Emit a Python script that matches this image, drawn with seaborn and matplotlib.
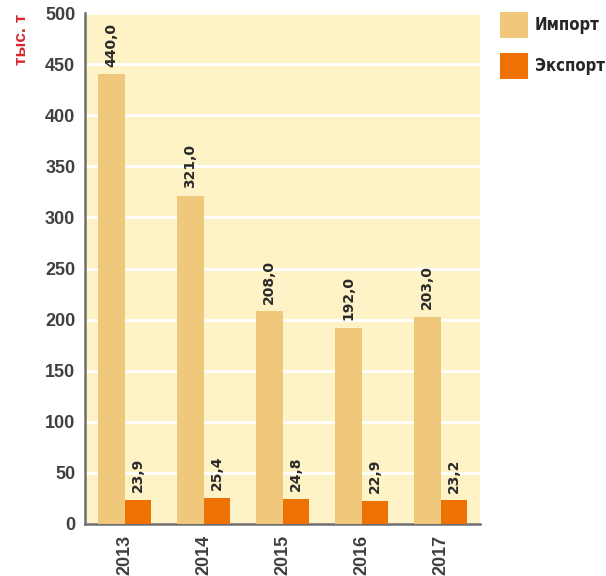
import pandas as pd
import numpy as np
import seaborn as sns
import matplotlib.pyplot as plt
from matplotlib.patches import Patch

# data
years = ['2013', '2014', '2015', '2016', '2017']
imports = [440.0, 321.0, 208.0, 192.0, 203.0]
exports = [23.9, 25.4, 24.8, 22.9, 23.2]
series = ['Импорт', 'Экспорт']
colors = ['#EFC87B', '#EE7203']

df = pd.DataFrame({
    'year': years * 2,
    'value': imports + exports,
    'type': [series[0]] * len(years) + [series[1]] * len(years),
})

sns.set_style('white')
plt.rcParams['font.family'] = ['Liberation Sans', 'DejaVu Sans']

fig = plt.figure(figsize=(6.06, 5.76), dpi=100)
ax = fig.add_axes([85 / 606, 1 - 524 / 576, 395 / 606, 511 / 576])
ax.set_facecolor('#FEF3C7')

sns.barplot(data=df, x='year', y='value', hue='type', palette=colors,
            width=0.68, saturation=1, ax=ax, legend=False, linewidth=0, zorder=3)

ax.set_ylim(0, 500)
ax.set_xlim(-0.5, 4.5)
ax.set_yticks(np.arange(0, 501, 50))
ax.yaxis.grid(True, color='white', linewidth=2, zorder=1)
ax.set_axisbelow(True)
ax.set_xlabel('')
ax.set_ylabel('')

for s in ['top', 'right']:
    ax.spines[s].set_visible(False)
for s in ['left', 'bottom']:
    ax.spines[s].set_color('#6E6E6E')
    ax.spines[s].set_linewidth(1.8)

ax.tick_params(axis='y', direction='out', length=5, width=1.2, color='#6E6E6E',
               labelsize=13, labelcolor='#404040', pad=2)
for t in ax.get_yticklabels():
    t.set_fontweight('bold')

ax.set_xticks(range(len(years)))
ax.set_xticklabels(years, rotation=90, fontsize=13, fontweight='bold', color='#404040')
ax.tick_params(axis='x', which='major', length=0, pad=8)
ax.set_xticks(np.arange(-0.5, len(years), 1), minor=True)
ax.tick_params(axis='x', which='minor', direction='out', length=7, width=1.2, color='#6E6E6E')

# value labels
for cont in ax.containers:
    labels = ['{:.1f}'.format(b.get_height()).replace('.', ',') for b in cont]
    ax.bar_label(cont, labels=labels, rotation=90, padding=5.5, fontsize=10,
                 fontweight='bold', color='#2A2A2A', family='DejaVu Sans')

fig.text(22 / 606, 1 - 39 / 576, 'тыс. т', rotation=90, color='#D7262E',
         fontsize=12.5, fontweight='bold', ha='center', va='center')

handles = [Patch(facecolor=c, edgecolor='none') for c in colors]
fig.legend(handles, series, loc='upper left', bbox_to_anchor=(500 / 606, 1 - 12 / 576),
           frameon=False, handlelength=1.68, handleheight=2.0,
           labelspacing=0.93, handletextpad=0.4, borderpad=0, borderaxespad=0,
           prop={'family': 'DejaVu Sans', 'stretch': 'condensed',
                 'weight': 'bold', 'size': 12})

fig.savefig('out.png', dpi=100)
